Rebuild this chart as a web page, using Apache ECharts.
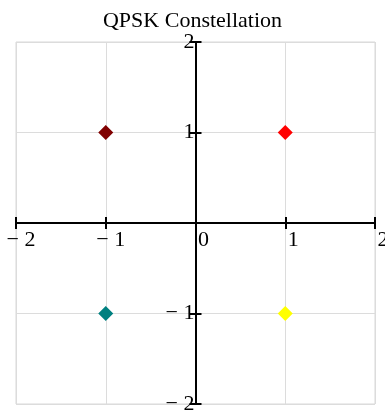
<!DOCTYPE html>
<html>
<head>
<meta charset="utf-8">
<script src="https://cdn.jsdelivr.net/npm/echarts@6/dist/echarts.min.js"></script>
<style>
  html, body { margin: 0; padding: 0; background: #fff; }
  #chart { width: 385px; height: 414px; }
</style>
</head>
<body>
<div id="chart"></div>
<script>
// QPSK symbol positions (in-phase / quadrature) and their colours
const symbolI = [-1, 1, -1, 1];
const symbolQ = [1, 1, -1, -1];
const symbolColors = ['#800000', '#ff0000', '#008080', '#ffff00'];
const tickValues = [-2, -1, 0, 1, 2];

const serif = '"Liberation Serif", "DejaVu Serif", serif';
const points = symbolI.map((v, i) => ({
  value: [v, symbolQ[i]],
  itemStyle: { color: symbolColors[i], opacity: 1 }
}));

function fmtNum(v) {
  return v < 0 ? '\u2212 ' + (-v) : String(v);
}

const axisRange = { min: tickValues[0], max: tickValues[tickValues.length - 1], interval: 1 };

// plot area
const G = { left: 16, right: 10, top: 42, bottom: 10 };
const W = 385 - G.left - G.right;
const H = 414 - G.top - G.bottom;
// the axes cross at the origin, in the middle of the plot area
const xOff = -H / 2;
const yOff = -W / 2;
const tickStyle = { color: '#000', width: 2 };
const labelFont = { fontFamily: serif, fontSize: 22, color: '#000' };

const chart = echarts.init(document.getElementById('chart'));
chart.setOption({
  animation: false,
  title: {
    text: 'QPSK Constellation',
    left: 'center',
    top: 5,
    textStyle: { fontFamily: serif, fontSize: 22, fontWeight: 'normal', color: '#000' }
  },
  grid: Object.assign({
    show: true, borderColor: '#d9d9d9', borderWidth: 1,
    containLabel: false, outerBoundsMode: 'none'
  }, G),
  xAxis: [
    Object.assign({
      type: 'value',
      position: 'bottom',
      offset: xOff,
      axisLine: { onZero: false, lineStyle: { color: '#000', width: 2 } },
      axisTick: { show: true, length: 6, lineStyle: tickStyle },
      splitLine: { show: true, lineStyle: { color: '#dcdcdc', width: 1 } },
      axisLabel: {
        margin: 6,
        align: 'center',
        formatter: v => v < 0 ? '{n|' + fmtNum(v) + '}' : '{p|' + v + '}',
        rich: {
          n: Object.assign({ padding: [0, 0, 0, 10] }, labelFont),
          p: Object.assign({ padding: [0, 0, 0, 16] }, labelFont)
        }
      }
    }, axisRange),
    Object.assign({
      type: 'value',
      position: 'bottom',
      offset: xOff,
      axisLine: { show: false, onZero: false },
      axisTick: { show: true, inside: true, length: 6, lineStyle: tickStyle },
      splitLine: { show: false },
      axisLabel: { show: false }
    }, axisRange)
  ],
  yAxis: [
    Object.assign({
      type: 'value',
      position: 'left',
      offset: yOff,
      axisLine: { onZero: false, lineStyle: { color: '#000', width: 2 } },
      axisTick: { show: true, length: 6, lineStyle: tickStyle },
      splitLine: { show: true, lineStyle: { color: '#dcdcdc', width: 1 } },
      axisLabel: Object.assign({
        margin: 1,
        padding: [12, 0, 0, 0],
        formatter: v => v === 0 ? '' : fmtNum(v)
      }, labelFont)
    }, axisRange),
    Object.assign({
      type: 'value',
      position: 'left',
      offset: yOff,
      axisLine: { show: false, onZero: false },
      axisTick: { show: true, inside: true, length: 6, lineStyle: tickStyle },
      splitLine: { show: false },
      axisLabel: { show: false }
    }, axisRange)
  ],
  series: [{
    type: 'scatter',
    symbol: 'diamond',
    symbolSize: 15,
    xAxisIndex: 0,
    yAxisIndex: 0,
    data: points,
    z: 5
  }]
});
</script>
</body>
</html>
